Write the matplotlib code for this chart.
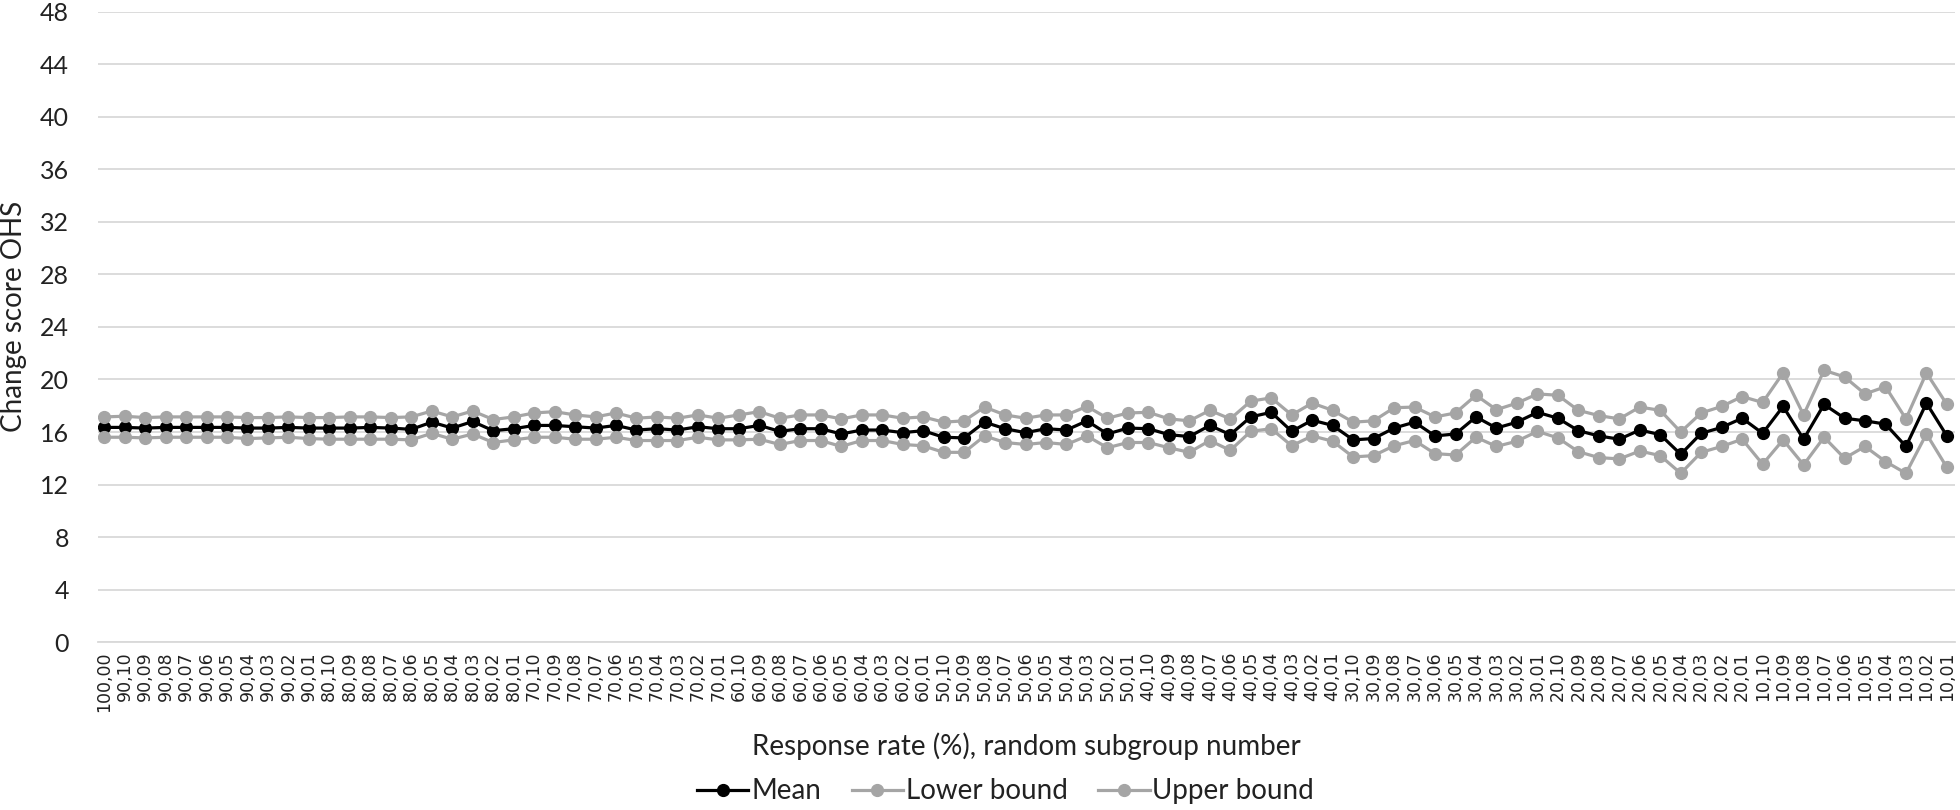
import matplotlib.pyplot as plt
import numpy as np

# Data
groups = [90, 80, 70, 60, 50, 40, 30, 20, 10]
labels = ["100,00"] + [f"{g},{n:02d}" for g in groups for n in range(10, 0, -1)]

mean = [16.35, 16.35, 16.3, 16.35, 16.35, 16.35, 16.35, 16.3, 16.3, 16.35,
        16.3, 16.3, 16.3, 16.35, 16.3, 16.2, 16.75, 16.3, 16.8, 16.1,
        16.25, 16.5, 16.5, 16.4, 16.3, 16.5, 16.15, 16.25, 16.15, 16.4,
        16.25, 16.25, 16.5, 16.05, 16.25, 16.25, 15.85, 16.15, 16.15, 15.95,
        16.1, 15.6, 15.55, 16.75, 16.25, 15.95, 16.25, 16.15, 16.85, 15.85,
        16.3, 16.25, 15.8, 15.65, 16.5, 15.8, 17.15, 17.5, 16.05, 16.9,
        16.5, 15.4, 15.5, 16.3, 16.75, 15.7, 15.85, 17.15, 16.3, 16.75,
        17.5, 17.05, 16.1, 15.7, 15.45, 16.15, 15.8, 14.3, 15.9, 16.35,
        17.05, 15.9, 17.95, 15.45, 18.1, 17.05, 16.85, 16.6, 14.9, 18.2,
        15.7]
upper = [17.15, 17.2, 17.1, 17.15, 17.15, 17.15, 17.15, 17.1, 17.1, 17.15,
         17.1, 17.1, 17.15, 17.15, 17.1, 17.15, 17.6, 17.15, 17.6, 16.95,
         17.15, 17.45, 17.55, 17.3, 17.15, 17.45, 17.05, 17.15, 17.05, 17.3,
         17.05, 17.3, 17.55, 17.05, 17.3, 17.3, 17.0, 17.3, 17.3, 17.05,
         17.15, 16.75, 16.85, 17.9, 17.3, 17.05, 17.3, 17.3, 17.95, 17.05,
         17.45, 17.5, 17.0, 16.85, 17.65, 17.0, 18.35, 18.6, 17.3, 18.2,
         17.65, 16.75, 16.85, 17.85, 17.9, 17.15, 17.45, 18.8, 17.7, 18.2,
         18.9, 18.8, 17.65, 17.25, 17.0, 17.9, 17.65, 16.0, 17.45, 17.95,
         18.7, 18.25, 20.5, 17.3, 20.7, 20.2, 18.9, 19.45, 17.0, 20.5,
         18.1]
lower = [15.6, 15.6, 15.55, 15.6, 15.6, 15.6, 15.6, 15.5, 15.55, 15.6,
         15.5, 15.45, 15.45, 15.45, 15.45, 15.4, 15.9, 15.45, 15.85, 15.2,
         15.4, 15.6, 15.6, 15.45, 15.45, 15.6, 15.35, 15.35, 15.35, 15.6,
         15.4, 15.4, 15.45, 15.05, 15.35, 15.35, 14.9, 15.35, 15.35, 15.05,
         14.95, 14.45, 14.45, 15.7, 15.2, 15.05, 15.2, 15.05, 15.7, 14.8,
         15.2, 15.2, 14.8, 14.45, 15.35, 14.6, 16.05, 16.25, 14.95, 15.7,
         15.3, 14.1, 14.2, 14.95, 15.35, 14.35, 14.25, 15.6, 14.9, 15.3,
         16.05, 15.55, 14.5, 14.05, 13.95, 14.55, 14.2, 12.85, 14.45, 14.9,
         15.45, 13.55, 15.4, 13.5, 15.6, 14.0, 14.9, 13.75, 12.85, 15.85,
         13.3]

x = np.arange(len(labels))
font = "Lato"
txt = "#222222"

fig = plt.figure(figsize=(19.6, 8.1), dpi=100)
ax = fig.add_axes([0.05, 0.2074, 0.9475, 0.7778])

gray = "#A5A5A5"
ax.plot(x, mean, color="black", lw=2.3, marker="o", ms=8.5, label="Mean", zorder=3)
ax.plot(x, lower, color=gray, lw=2.3, marker="o", ms=8.5, label="Lower bound", zorder=3)
ax.plot(x, upper, color=gray, lw=2.3, marker="o", ms=8.5, label="Upper bound", zorder=3)

ax.set_ylim(0, 48)
ax.set_yticks(np.arange(0, 49, 4))
ax.set_xlim(-0.3, 90.4)
ax.set_xticks(x)
ax.set_xticklabels(labels, rotation=90, fontsize=12.5, family="DejaVu Sans", color=txt)
for t in ax.get_yticklabels():
    t.set_family(font)
    t.set_fontsize(18)
    t.set_color(txt)
ax.tick_params(axis="y", length=0, pad=21)
ax.tick_params(axis="x", length=0, pad=7)

ax.grid(axis="y", color="#D9D9D9", lw=1.3)
ax.set_axisbelow(True)
for s in ["top", "right", "left"]:
    ax.spines[s].set_visible(False)
ax.spines["bottom"].set_color("#D9D9D9")
ax.spines["bottom"].set_linewidth(1.3)

ax.set_xlabel("Response rate (%), random subgroup number", family=font, fontsize=20, color=txt)
ax.xaxis.set_label_coords(0.5, -0.165)
ax.xaxis.label.set_va("center")
ax.set_ylabel("Change score OHS", family=font, fontsize=20, color=txt)
ax.yaxis.set_label_coords(-0.0452, 0.517)
ax.yaxis.label.set_va("center")

fig.legend(loc="center", bbox_to_anchor=(0.513, 0.023), ncol=3, frameon=False,
           prop={"family": font, "size": 20}, handlelength=1.85, handletextpad=0.1,
           columnspacing=1.1, labelcolor=txt)

plt.savefig("out.png", dpi=100)
